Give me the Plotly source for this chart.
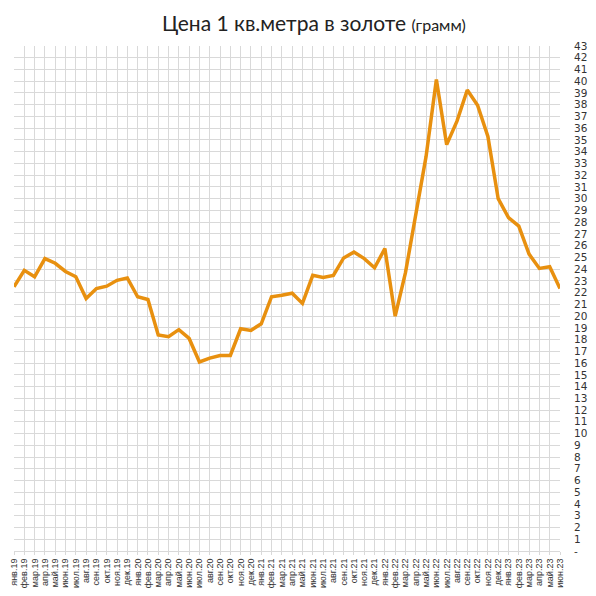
import plotly.graph_objects as go

# месяцы янв.19 .. июн.23
months = ["янв", "фев", "мар", "апр", "май", "июн",
          "июл", "авг", "сен", "окт", "ноя", "дек"]
labels = []
for yr in ["19", "20", "21", "22", "23"]:
    for m in months:
        labels.append(m + "." + yr)
labels = labels[:54]

# цена 1 кв.м в граммах золота
grams = [22.5, 23.9, 23.35, 24.9, 24.5, 23.8, 23.35, 21.5, 22.35, 22.55, 23.05, 23.25,
         21.65, 21.42, 18.4, 18.25, 18.85, 18.1, 16.1, 16.42, 16.65, 16.65, 18.92, 18.78,
         19.35, 21.65, 21.78, 21.95, 21.08, 23.47, 23.3, 23.47, 24.95, 25.45, 24.9, 24.12,
         25.75, 20.0, 23.7, 28.5, 33.6, 40.15, 34.6, 36.6, 39.25, 37.95, 35.3, 30.0,
         28.38, 27.67, 25.28, 24.06, 24.2, 22.35]

ytick_vals = list(range(0, 44))
ytick_text = ["-"] + [str(v) for v in range(1, 44)]

fig = go.Figure(go.Scatter(
    x=labels,
    y=grams,
    mode="lines",
    line=dict(color="#E8900F", width=3.5),
    hoverinfo="x+y",
))

# страница имеет отступ 8px у body, поэтому фигура 580x580
fig.update_layout(
    width=580, height=580,
    margin=dict(l=6, r=28, t=38, b=37),
    paper_bgcolor="white",
    plot_bgcolor="white",
    showlegend=False,
    font=dict(family="DejaVu Sans", color="#333333"),
    annotations=[dict(
        text="Цена 1 кв.метра в золоте <span style='font-size:16px'>(грамм)</span>",
        xref="paper", yref="paper", x=0.55, y=1.0, yshift=24,
        xanchor="center", yanchor="middle", showarrow=False,
        font=dict(family="Lato", size=21, color="#222222"),
    )],
)

fig.update_xaxes(
    type="category",
    range=[0, 53],
    tickmode="array",
    tickvals=labels,
    ticktext=labels,
    tickangle=-90,
    tickfont=dict(family="Liberation Sans", size=9, color="#333333"),
    showgrid=True, gridcolor="#d9d9d9", gridwidth=1,
    ticks="outside", ticklen=3, tickcolor="#d9d9d9",
    showline=False, zeroline=False,
    automargin=False,
)

fig.update_yaxes(
    side="right",
    range=[0, 43],
    tickvals=ytick_vals,
    ticktext=ytick_text,
    tickfont=dict(size=10.5, color="#333333"),
    showgrid=True, gridcolor="#d9d9d9", gridwidth=1,
    showline=False, zeroline=True, zerolinecolor="#d9d9d9", zerolinewidth=1,
    ticklabelstandoff=13,
    automargin=False,
)

fig.write_html("out.html")
